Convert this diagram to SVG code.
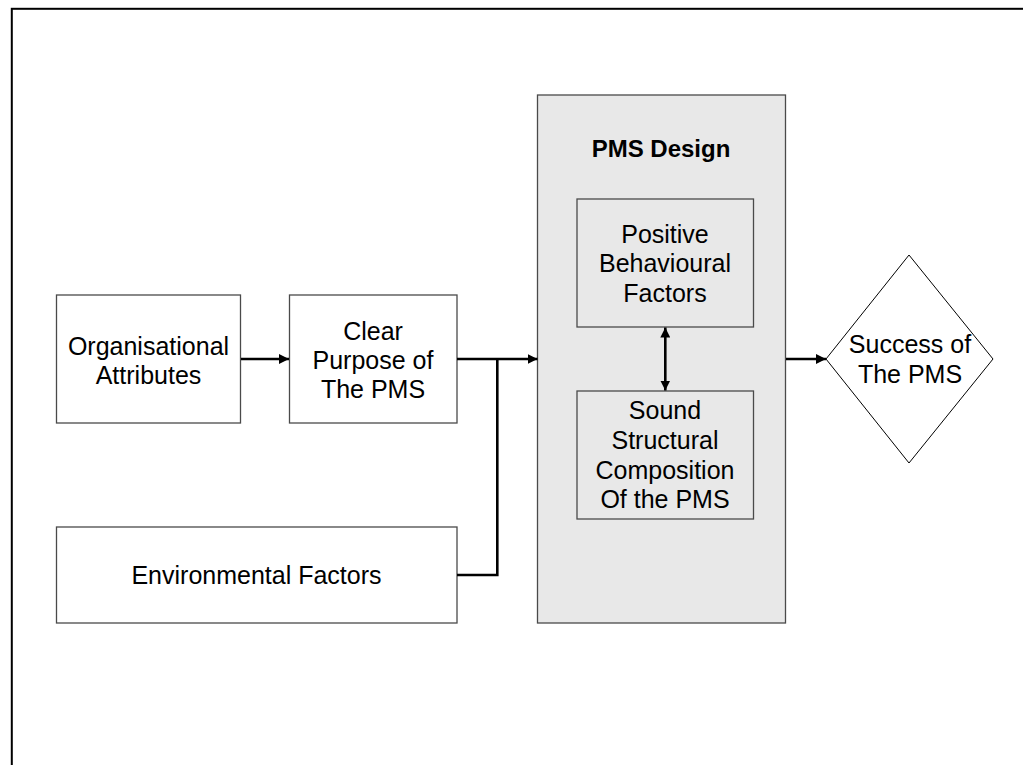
<svg xmlns="http://www.w3.org/2000/svg" width="1023" height="765" viewBox="0 0 1023 765">
  <style>
    .box { fill: #ffffff; stroke: #4a4a4a; stroke-width: 1.3; }
    .panel { fill: #e8e8e8; stroke: #4a4a4a; stroke-width: 1.3; }
    .label { font-family: "Liberation Sans", Arial, sans-serif; font-size: 25px; fill: #000; text-anchor: middle; }
    .title { font-family: "Liberation Sans", Arial, sans-serif; font-size: 24px; font-weight: bold; fill: #000; text-anchor: middle; }
    .link { fill: none; stroke: #000; stroke-width: 2.6; }
  </style>
  <defs>
    <marker id="arrow" viewBox="0 0 10 10" refX="10" refY="5" markerWidth="10" markerHeight="10" markerUnits="userSpaceOnUse" orient="auto-start-reverse">
      <path d="M0,0 L10,5 L0,10 z" fill="#000"/>
    </marker>
  </defs>

  <!-- page frame -->
  <rect x="11.8" y="8.8" width="1030" height="780" fill="#ffffff" stroke="#000" stroke-width="2"/>

  <g id="pms-design">
    <rect class="panel" x="537.5" y="95" width="248" height="528"/>
    <text class="title" x="661" y="157">PMS Design</text>
  </g>

  <g id="organisational-attributes">
    <rect class="box" x="56.5" y="295" width="184" height="128"/>
    <text class="label" x="148.5" y="355">Organisational</text>
    <text class="label" x="148.5" y="384">Attributes</text>
  </g>

  <g id="clear-purpose">
    <rect class="box" x="289.5" y="295" width="167.5" height="128"/>
    <text class="label" x="373" y="340">Clear</text>
    <text class="label" x="373" y="369">Purpose of</text>
    <text class="label" x="373" y="398">The PMS</text>
  </g>

  <g id="environmental-factors">
    <rect class="box" x="56.5" y="527" width="400.5" height="96"/>
    <text class="label" x="256.5" y="584">Environmental Factors</text>
  </g>

  <g id="positive-behavioural-factors">
    <rect class="panel" x="577" y="199" width="176.5" height="128"/>
    <text class="label" x="665" y="243">Positive</text>
    <text class="label" x="665" y="272">Behavioural</text>
    <text class="label" x="665" y="302">Factors</text>
  </g>

  <g id="sound-structural-composition">
    <rect class="panel" x="577" y="391" width="176.5" height="128"/>
    <text class="label" x="665" y="419">Sound</text>
    <text class="label" x="665" y="449">Structural</text>
    <text class="label" x="665" y="479">Composition</text>
    <text class="label" x="665" y="508">Of the PMS</text>
  </g>

  <g id="success-of-pms">
    <polygon points="909,255 993,359 909,463 826,359" fill="#ffffff" stroke="#000" stroke-width="1"/>
    <text class="label" x="910" y="353">Success of</text>
    <text class="label" x="910" y="383">The PMS</text>
  </g>

  <g id="connectors">
    <line class="link" x1="241" y1="359" x2="289" y2="359" marker-end="url(#arrow)"/>
    <line class="link" x1="457" y1="359" x2="537.5" y2="359" marker-end="url(#arrow)"/>
    <polyline class="link" points="457,575 497.3,575 497.3,359"/>
    <line class="link" x1="665.3" y1="327.5" x2="665.3" y2="390.5" marker-start="url(#arrow)" marker-end="url(#arrow)"/>
    <line class="link" x1="786" y1="359" x2="826" y2="359" marker-end="url(#arrow)"/>
  </g>
</svg>
